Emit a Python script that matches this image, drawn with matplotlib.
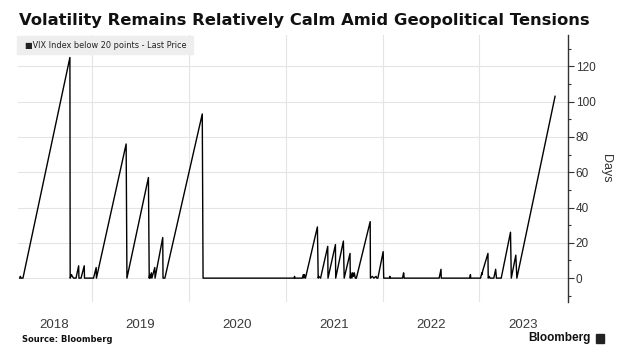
import matplotlib
matplotlib.use("Agg")
import matplotlib.pyplot as plt
import matplotlib.patches as mpatches
import pandas as pd

# days in a row with the VIX closing below 20 (vertices of the step/ramp line)
dates = [
    '2018-04-04', '2018-04-06', '2018-04-09', '2018-04-16', '2018-10-10', '2018-10-11',
    '2018-10-16', '2018-10-19', '2018-10-24', '2018-11-02', '2018-11-12', '2018-11-13',
    '2018-11-21', '2018-12-03', '2018-12-04', '2019-01-07', '2019-01-17', '2019-01-18',
    '2019-05-10', '2019-05-13', '2019-08-02', '2019-08-05', '2019-08-07', '2019-08-09',
    '2019-08-13', '2019-08-15', '2019-08-26', '2019-08-27', '2019-09-25', '2019-09-26',
    '2019-10-03', '2020-02-21', '2020-02-24', '2021-02-01', '2021-02-03', '2021-02-04',
    '2021-03-04', '2021-03-08', '2021-03-10', '2021-03-12', '2021-03-16', '2021-04-30',
    '2021-05-03', '2021-05-05', '2021-05-12', '2021-06-08', '2021-06-09', '2021-07-07',
    '2021-07-08', '2021-08-06', '2021-08-09', '2021-08-31', '2021-09-01', '2021-09-03',
    '2021-09-07', '2021-09-10', '2021-09-13', '2021-09-16', '2021-09-20', '2021-09-24',
    '2021-11-15', '2021-11-16', '2021-11-23', '2021-11-29', '2021-12-07', '2021-12-10',
    '2021-12-14', '2022-01-03', '2022-01-05', '2022-01-27', '2022-01-28', '2022-01-31',
    '2022-03-17', '2022-03-21', '2022-03-22', '2022-03-23', '2022-08-02', '2022-08-09',
    '2022-08-10', '2022-11-25', '2022-11-28', '2022-11-29', '2023-01-05', '2023-01-10',
    '2023-01-11', '2023-01-13', '2023-02-02', '2023-02-03', '2023-02-07', '2023-02-10',
    '2023-02-24', '2023-03-03', '2023-03-06', '2023-03-24', '2023-04-28', '2023-05-01',
    '2023-05-18', '2023-05-22', '2023-10-13',
]
days = [
    0, 1, 0, 0, 125, 0,
    2, 1, 0, 0, 7, 0,
    0, 7, 0, 0, 6, 0,
    76, 0, 57, 0, 2, 0,
    3, 0, 6, 0, 23, 0,
    0, 93, 0, 0, 1, 0,
    0, 2, 0, 2, 0, 29,
    0, 1, 0, 18, 0, 19,
    0, 21, 0, 14, 0, 3,
    0, 3, 1, 3, 0, 0,
    32, 0, 1, 0, 1, 0,
    0, 15, 0, 0, 1, 0,
    0, 3, 2, 0, 0, 5,
    0, 0, 2, 0, 0, 3,
    2, 4, 14, 0, 1, 0,
    0, 5, 0, 0, 26, 0,
    13, 0, 103,
]

year_labels = ['2018', '2019', '2020', '2021', '2022', '2023']
label_dates = ['2018-08-10', '2019-07-02', '2020-07-01', '2021-07-02', '2022-07-02', '2023-06-15']
year_starts = ['2019-01-01', '2020-01-01', '2021-01-01', '2022-01-01', '2023-01-01']

title = 'Volatility Remains Relatively Calm Amid Geopolitical Tensions'
series_name = 'VIX Index below 20 points - Last Price'

plt.rcParams['font.family'] = ['Liberation Sans', 'DejaVu Sans']

fig = plt.figure(figsize=(6.27, 3.54), dpi=100)
ax = fig.add_axes([0.029, 0.147, 0.877, 0.754])

ax.plot(pd.to_datetime(dates), days, color='black', lw=1.0)

ax.set_xlim(pd.Timestamp('2018-03-29'), pd.Timestamp('2023-12-01'))
ax.set_ylim(-13.5, 137.7)

# year labels centred in each year, gridlines on year boundaries
ax.set_xticks(pd.to_datetime(label_dates))
ax.set_xticklabels(year_labels, family=['Liberation Sans Narrow', 'Liberation Sans'])
ax.set_xticks(pd.to_datetime(year_starts), minor=True)
ax.tick_params(axis='x', which='both', length=0, pad=12.5, labelsize=9.5, labelcolor='#3a3a3a')
ax.grid(True, axis='x', which='minor', color='#e4e4e4', lw=0.8)

ax.yaxis.tick_right()
ax.yaxis.set_label_position('right')
ax.set_yticks(range(0, 121, 20))
ax.set_yticks(range(-10, 131, 10), minor=True)
ax.tick_params(axis='y', which='major', length=4, width=0.8, color='#333333',
               labelsize=8.5, labelcolor='#333333', pad=1.5)
ax.tick_params(axis='y', which='minor', length=2.5, width=0.8, color='#333333')
ax.grid(True, axis='y', which='major', color='#e4e4e4', lw=0.8)
ax.set_axisbelow(True)
ax.set_ylabel('Days', rotation=270, labelpad=12, fontsize=9, color='#333333')

for side in ['left', 'top', 'bottom']:
    ax.spines[side].set_visible(False)
ax.spines['right'].set_color('#333333')
ax.spines['right'].set_linewidth(1.0)

# legend box in the top left corner
fig.patches.append(mpatches.Rectangle((17 / 627, 1 - 54 / 354), 176 / 627, 18 / 354,
                                      transform=fig.transFigure, color='#eeeeee', zorder=2))
fig.text(25 / 627, 1 - 45 / 354, '\u25a0' + series_name, fontsize=5.9, va='center',
         ha='left', color='#222222', family=['DejaVu Sans'], zorder=3)

heading = fig.text(19 / 627, 1 - 20 / 354, title, fontsize=12, fontweight='bold', va='center',
                   ha='left', color='#111111', family=['DejaVu Sans'])
# shrink/grow the title so it spans the same width as in the original
fig.canvas.draw()
heading.set_fontsize(12 * 568 / heading.get_window_extent().width)

fig.text(22 / 627, 1 - 340 / 354, 'Source: Bloomberg', fontsize=6.0, fontweight='bold',
         va='center', ha='left', color='#111111', family=['DejaVu Sans'])
fig.text(591 / 627, 1 - 338 / 354, 'Bloomberg', fontsize=8.5, fontweight='bold',
         va='center', ha='right', color='#111111')
fig.patches.append(mpatches.Rectangle((596 / 627, 1 - 343 / 354), 8 / 627, 9 / 354,
                                      transform=fig.transFigure, color='#222222'))

fig.savefig('out.png', dpi=100)
